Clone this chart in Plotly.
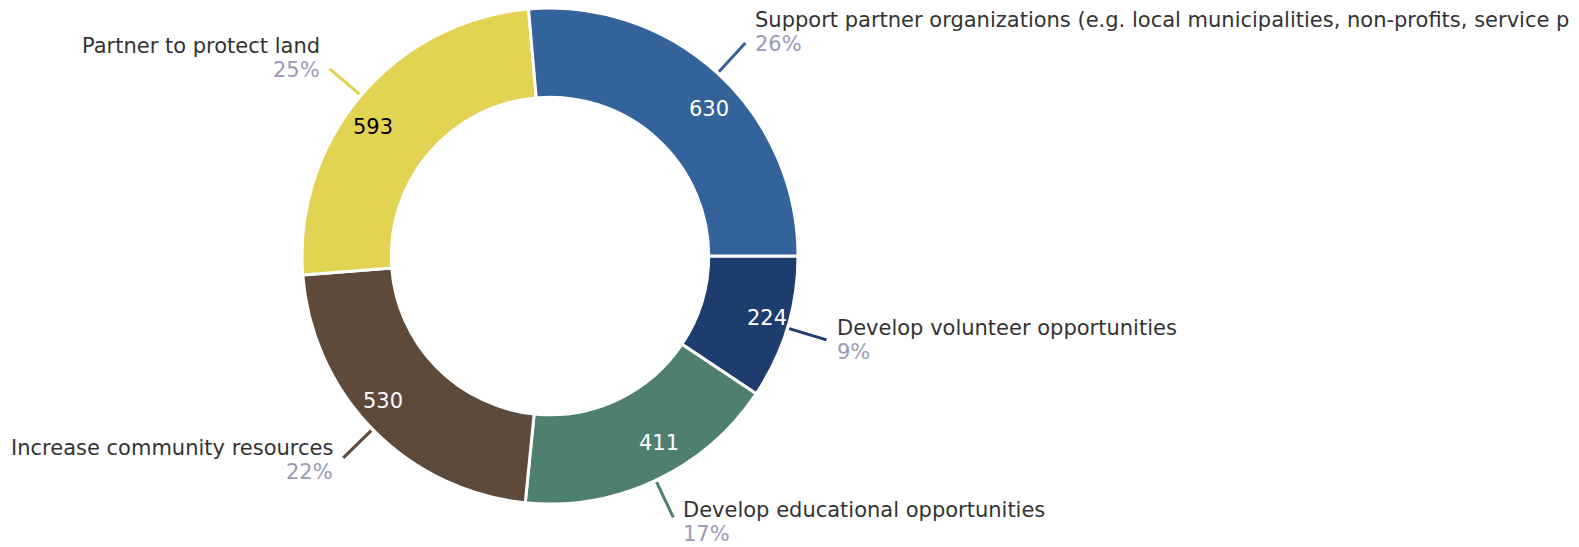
import math
import plotly.graph_objects as go

# data, in drawing order (clockwise from 3 o'clock)
labels = [
    "Develop volunteer opportunities",
    "Develop educational opportunities",
    "Increase community resources",
    "Partner to protect land",
    "Support partner organizations (e.g. local municipalities, non-profits, service providers)",
]
values = [224, 411, 530, 593, 630]
colors = ["#1c3d6e", "#4f7f6f", "#5e4a3b", "#e2d352", "#34629a"]
text_colors = ["white", "white", "white", "black", "white"]

W, H = 1579, 547
# page body has an 8px margin, so positions are shifted back by 8
cx, cy, R = 542, 248, 248
HOLE = 0.64
start = 90  # degrees clockwise from 12 o'clock
FONT = "DejaVu Sans, sans-serif"
LABEL_COL = "#333333"
PCT_COL = "#9a9ab6"

fig = go.Figure(go.Pie(
    labels=labels,
    values=values,
    hole=HOLE,
    sort=False,
    direction="clockwise",
    rotation=start,
    marker=dict(colors=colors, line=dict(color="white", width=3)),
    textinfo="none",
    domain=dict(x=[(cx - R) / W, (cx + R) / W], y=[1 - (cy + R) / H, 1 - (cy - R) / H]),
    showlegend=False,
    hoverinfo="label+value+percent",
))

total = sum(values)
shapes = []
annotations = []
cum = 0
rmid = R * (1 + HOLE) / 2
for lab, v, col, tc in zip(labels, values, colors, text_colors):
    mid = start + (cum + v / 2) / total * 360
    cum += v
    a = math.radians(mid)
    dx, dy = math.sin(a), -math.cos(a)
    right = dx > 0
    anchor = "left" if right else "right"

    # value inside the ring, anchored at the middle of the ring
    ix, iy = cx + dx * rmid, cy + dy * rmid + 3
    annotations.append(dict(x=ix / W, y=1 - iy / H, xref="paper", yref="paper",
                            text=str(v), showarrow=False, xanchor=anchor, yanchor="middle",
                            font=dict(family=FONT, size=21, color=tc)))

    # leader line and outside label
    x0, y0 = cx + dx * (R + 2), cy + dy * (R + 2)
    x1, y1 = cx + dx * (R + 41), cy + dy * (R + 41)
    shapes.append(dict(type="line", xref="paper", yref="paper",
                       x0=x0 / W, y0=1 - y0 / H, x1=x1 / W, y1=1 - y1 / H,
                       line=dict(color=col, width=3)))
    tx = x1 + (8 if right else -8)
    off = -11 if dy < 0 else max(0, (dy - 0.5) * 12)
    pct = round(v / total * 100)
    annotations.append(dict(x=tx / W, y=1 - (y1 + off - 12) / H, xref="paper", yref="paper",
                            text=lab, showarrow=False, xanchor=anchor, yanchor="middle",
                            font=dict(family=FONT, size=21, color=LABEL_COL)))
    annotations.append(dict(x=tx / W, y=1 - (y1 + off + 12) / H, xref="paper", yref="paper",
                            text=f"{pct}%", showarrow=False, xanchor=anchor, yanchor="middle",
                            font=dict(family=FONT, size=21, color=PCT_COL)))

fig.update_layout(
    width=W, height=H,
    margin=dict(l=0, r=0, t=0, b=0),
    paper_bgcolor="white",
    plot_bgcolor="white",
    shapes=shapes,
    annotations=annotations,
    font=dict(family=FONT),
)

fig.write_html("out.html")
